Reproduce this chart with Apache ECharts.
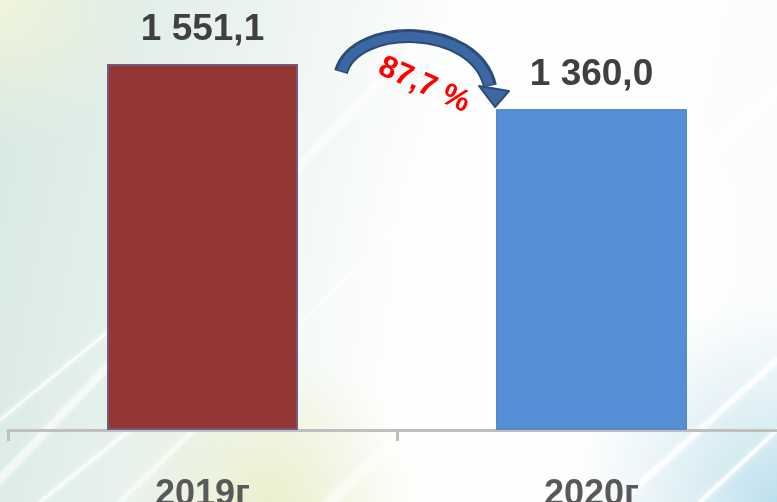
<!DOCTYPE html>
<html>
<head>
<meta charset="utf-8">
<script src="https://cdn.jsdelivr.net/npm/echarts@6/dist/echarts.min.js"></script>
<style>
  html, body { margin: 0; padding: 0; }
  #chart { width: 777px; height: 502px; }
</style>
</head>
<body>
<div id="chart"></div>
<script>
// данные
const years = ["2019г", "2020г"]
const values = [1551.1, 1360.0]
const barColors = ["#943634", "#558ed5"]
const changeText = "87,7 %"

function fmt(v) {
  const parts = v.toFixed(1).split(".")
  const intPart = parts[0].replace(/\B(?=(\d{3})+(?!\d))/g, " ")
  return intPart + "," + parts[1]
}

const myChart = echarts.init(document.getElementById("chart"))

// фон — светлые диагональные полосы
const streak = (x1, y1, x2, y2, w, color, op) => ({
  type: "line", silent: true, z: -5,
  shape: { x1, y1, x2, y2 },
  style: { stroke: color, lineWidth: w, opacity: op, lineCap: "round", shadowBlur: 6, shadowColor: color }
})

const bgGraphics = [
  {
    type: "rect", silent: true, z: -10,
    shape: { x: 0, y: 0, width: 777, height: 502 },
    style: {
      fill: new echarts.graphic.LinearGradient(0, 0, 1, 0.3, [
        { offset: 0, color: "#d6e8e3" },
        { offset: 0.3, color: "#eaf3ee" },
        { offset: 0.6, color: "#ffffff" },
        { offset: 1, color: "#fbfdfd" }
      ])
    }
  },
  {
    type: "rect", silent: true, z: -9,
    shape: { x: 0, y: 0, width: 777, height: 502 },
    style: {
      fill: new echarts.graphic.RadialGradient(0.72, 0.5, 0.45, [
        { offset: 0, color: "rgba(255,255,255,1)" },
        { offset: 1, color: "rgba(255,255,255,0)" }
      ])
    }
  },
  {
    type: "rect", silent: true, z: -8,
    shape: { x: 0, y: 0, width: 777, height: 502 },
    style: {
      fill: new echarts.graphic.RadialGradient(1, 1, 0.4, [
        { offset: 0, color: "rgba(185,222,236,0.95)" },
        { offset: 1, color: "rgba(210,232,240,0)" }
      ])
    }
  },
  {
    type: "rect", silent: true, z: -8,
    shape: { x: 0, y: 0, width: 777, height: 502 },
    style: {
      fill: new echarts.graphic.RadialGradient(0, 0, 0.3, [
        { offset: 0, color: "rgba(242,245,218,0.95)" },
        { offset: 1, color: "rgba(242,245,218,0)" }
      ])
    }
  },
  {
    type: "rect", silent: true, z: -8,
    shape: { x: 0, y: 0, width: 777, height: 502 },
    style: {
      fill: new echarts.graphic.RadialGradient(0.35, 1, 0.3, [
        { offset: 0, color: "rgba(232,238,196,0.8)" },
        { offset: 1, color: "rgba(232,238,196,0)" }
      ])
    }
  },
  streak(-20, 500, 420, 40, 8, "#ffffff", 0.45),
  streak(120, 502, 620, 10, 5, "#ffffff", 0.45),
  streak(330, 502, 777, 90, 12, "#ffffff", 0.4),
  streak(0, 420, 110, 330, 3, "#ffffff", 0.7),
  streak(620, 502, 777, 360, 6, "#ffffff", 0.7),
  streak(700, 502, 777, 430, 4, "#ffffff", 0.8),
  streak(40, 502, 130, 430, 4, "#ffffff", 0.6)
]

// стрелка и процент
const arrowGraphics = [
  {
    type: "bezierCurve", silent: true, z: 10,
    shape: { x1: 341, y1: 72, cpx1: 355, cpy1: 22, cpx2: 475, cpy2: 22, x2: 490, y2: 86 },
    style: { stroke: "#2b4c7a", lineWidth: 14, fill: null }
  },
  {
    type: "bezierCurve", silent: true, z: 11,
    shape: { x1: 342, y1: 71, cpx1: 356, cpy1: 23, cpx2: 474, cpy2: 23, x2: 489, y2: 85 },
    style: { stroke: "#3d67a3", lineWidth: 9, fill: null }
  },
  {
    type: "polygon", silent: true, z: 12,
    shape: { points: [[479, 86], [509, 91], [495, 107]] },
    style: { fill: "#3d67a3", stroke: "#2b4c7a", lineWidth: 2, lineJoin: "round" }
  },
  {
    type: "text", silent: true, z: 12,
    x: 424, y: 85, rotation: -0.42,
    style: {
      text: changeText,
      fill: "#ff0000",
      font: "bold 31px 'Liberation Sans', Arial, sans-serif",
      align: "center",
      verticalAlign: "middle"
    }
  }
]

const option = {
  animation: false,
  graphic: bgGraphics.concat(arrowGraphics),
  grid: { left: 8, right: -9, top: 64, bottom: 72, outerBoundsMode: "none", containLabel: false },
  xAxis: {
    type: "category",
    data: years,
    axisLine: { lineStyle: { color: "#bfbfbf", width: 3 } },
    axisTick: { show: true, length: 11, lineStyle: { color: "#bfbfbf", width: 3 } },
    axisLabel: {
      margin: 47,
      color: "#595959",
      fontSize: 36,
      fontWeight: "bold",
      fontFamily: "Liberation Sans"
    }
  },
  yAxis: {
    type: "value",
    min: 0,
    max: (v) => v.max,
    show: false,
    splitLine: { show: false }
  },
  series: [{
    type: "bar",
    barWidth: 191,
    data: values.map((v, i) => ({
      value: v,
      itemStyle: {
        color: barColors[i],
        borderColor: i === 0 ? "#745a7a" : "#5089cc",
        borderWidth: i === 0 ? 2 : 1
      }
    })),
    label: {
      show: true,
      position: "top",
      distance: 16,
      color: "#404040",
      fontSize: 37,
      fontWeight: "bold",
      fontFamily: "Liberation Sans",
      formatter: (p) => fmt(p.value)
    }
  }]
}

myChart.setOption(option)
</script>
</body>
</html>
